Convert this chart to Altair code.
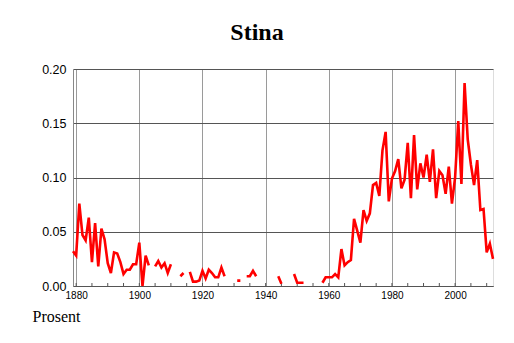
import altair as alt
import pandas as pd

years = list(range(1879, 2013))
values = [
    0.032, 0.028, 0.076, 0.047, 0.042, 0.063, 0.022, 0.058, 0.018, 0.053,  # 1879-1888
    0.043, 0.021, 0.012, 0.031, 0.030, 0.022, 0.011, 0.015, 0.015, 0.020,  # 1889-1898
    0.020, 0.040, 0.000, 0.028, 0.019, None, 0.018, 0.023, 0.017, 0.021,   # 1899-1908
    0.012, 0.020, None, None, 0.009, 0.012, None, 0.013, 0.004, 0.004,     # 1909-1918
    0.005, 0.014, 0.007, 0.015, 0.012, 0.008, 0.008, 0.017, 0.009, None,   # 1919-1928
    None, None, 0.005, 0.005, None, 0.009, 0.009, 0.014, 0.009, None,      # 1929-1938
    None, None, None, None, None, 0.009, 0.002, None, None, None,          # 1939-1948
    0.011, 0.003, 0.003, 0.003, None, None, None, None, None, 0.003,       # 1949-1958
    0.008, 0.008, 0.008, 0.011, 0.008, 0.034, 0.019, 0.022, 0.024, 0.062,  # 1959-1968
    0.051, 0.040, 0.070, 0.060, 0.067, 0.093, 0.095, 0.083, 0.125, 0.142,  # 1969-1978
    0.078, 0.099, 0.106, 0.117, 0.090, 0.098, 0.132, 0.081, 0.139, 0.089,  # 1979-1988
    0.113, 0.100, 0.121, 0.096, 0.126, 0.081, 0.106, 0.102, 0.085, 0.110,  # 1989-1998
    0.076, 0.100, 0.152, 0.094, 0.187, 0.135, 0.112, 0.093, 0.116, 0.070,  # 1999-2008
    0.071, 0.031, 0.039, 0.025,                                            # 2009-2012
]
label_years = [1880, 1900, 1920, 1940, 1960, 1980, 2000]
tick_years = list(range(1880, 2011, 5))
y_ticks = [0.0, 0.05, 0.10, 0.15, 0.20]

df = pd.DataFrame({"year": years, "share": values})
ticks_df = pd.DataFrame({"year": tick_years})

W, H = 420, 217

xscale = alt.Scale(domain=[1879, 2012], nice=False, zero=False)

line = alt.Chart(df).mark_line(
    color="#ff0000", strokeWidth=2.6, invalid="break-paths-filter-domains"
).encode(
    x=alt.X(
        "year:Q",
        scale=xscale,
        axis=alt.Axis(
            values=label_years,
            format="d",
            title="Prosent",
            titleFont="Liberation Serif",
            titleFontSize=16,
            titleFontWeight="normal",
            titleColor="#000",
            titleAlign="left",
            titleBaseline="alphabetic",
            titleAnchor="start",
            titleX=-41,
            titleY=35,
            labelFont="Liberation Sans",
            labelFontSize=10,
            labelColor="#000",
            labelPadding=4,
            tickSize=0,
            grid=True,
            gridColor="#9a9a9a",
            gridWidth=1,
            domainColor="#555",
            domainWidth=1,
        ),
    ),
    y=alt.Y(
        "share:Q",
        scale=alt.Scale(domain=[0, 0.2], nice=False),
        axis=alt.Axis(
            values=y_ticks,
            format=".2f",
            title=None,
            labelFont="Liberation Sans",
            labelFontSize=12.5,
            labelColor="#000",
            labelPadding=7,
            tickSize=0,
            grid=True,
            gridColor="#555",
            gridWidth=1,
            domainColor="#888",
            domainWidth=1,
        ),
    ),
)

tick_marks = alt.Chart(ticks_df).mark_rule(color="#555", strokeWidth=1).encode(
    x=alt.X("year:Q", scale=xscale),
    y=alt.value(H),
    y2=alt.value(H - 3),
)

chart = alt.layer(tick_marks, line).properties(
    width=W,
    height=H,
    title=alt.TitleParams(
        "Stina",
        font="Liberation Serif",
        fontSize=24,
        fontWeight="bold",
        color="#000",
        anchor="middle",
        baseline="alphabetic",
        dx=-26,
        dy=29,
        offset=28,
    ),
    autosize=alt.AutoSizeParams(type="none"),
    padding={"left": 73, "top": 69, "right": 21, "bottom": 57},
).configure_view(stroke=None).configure(background="white")

chart.save("out.html", embed_options={"renderer": "svg", "actions": False})
